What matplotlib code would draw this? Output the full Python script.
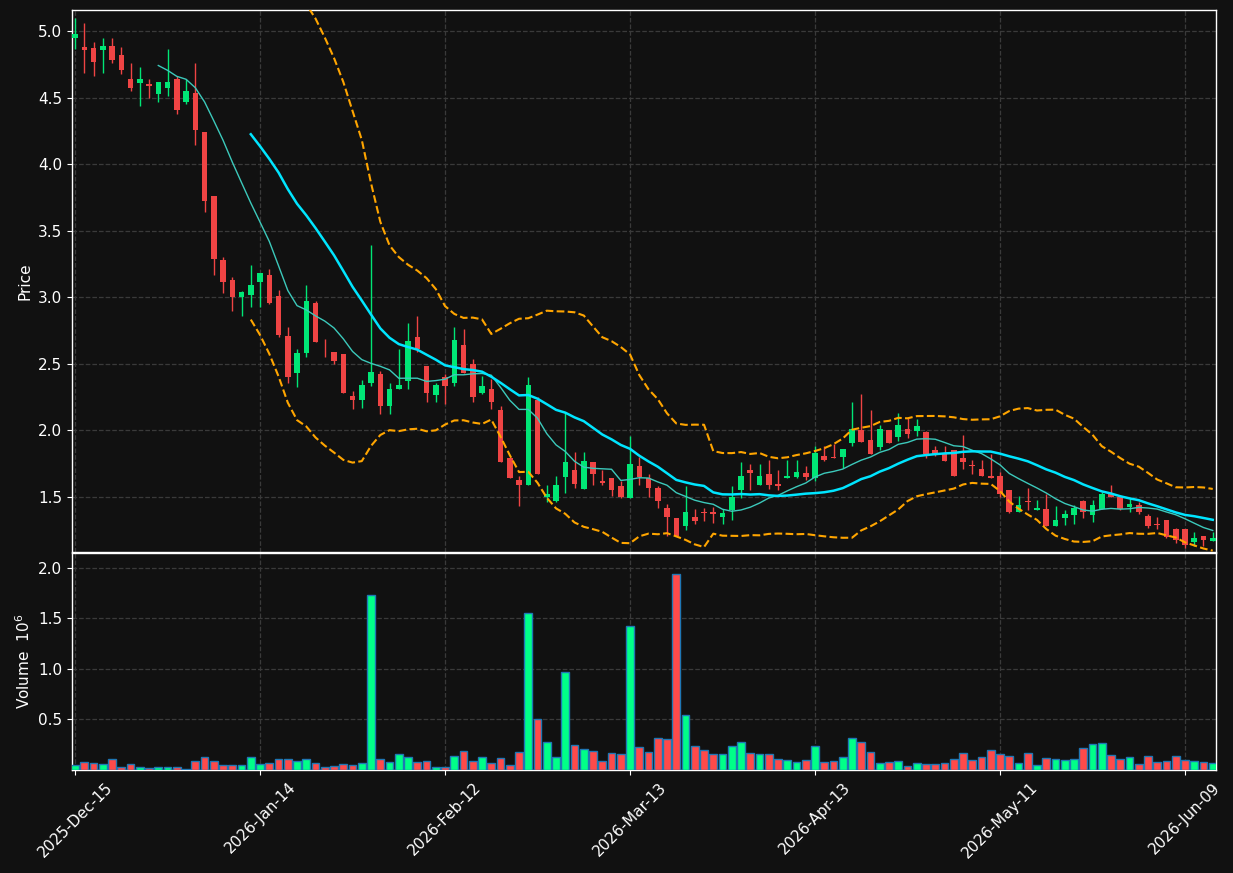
import numpy as np
import pandas as pd
import matplotlib
matplotlib.use("Agg")
import matplotlib.pyplot as plt

# trading days (NYSE holidays skipped)
holidays = ["2025-12-25", "2026-01-01", "2026-01-19", "2026-02-16", "2026-04-03", "2026-05-25"]
dates = pd.bdate_range(start="2025-12-15", periods=124, freq="C", holidays=holidays)

opens = [4.945, 4.88, 4.87, 4.855, 4.89, 4.82, 4.64, 4.61, 4.60, 4.53,
         4.575, 4.64, 4.47, 4.535, 4.24, 3.76, 3.28, 3.13, 3.00, 3.015,
         3.115, 3.17, 3.01, 2.71, 2.435, 2.585, 2.96, 2.615, 2.59, 2.575,
         2.26, 2.23, 2.36, 2.425, 2.18, 2.315, 2.37, 2.70, 2.485, 2.27,
         2.40, 2.36, 2.64, 2.50, 2.285, 2.31, 2.155, 1.795, 1.63, 1.59,
         2.225, 1.50, 1.47, 1.65, 1.705, 1.56, 1.76, 1.62, 1.64, 1.585,
         1.49, 1.735, 1.64, 1.57, 1.42, 1.345, 1.285, 1.35, 1.39, 1.39,
         1.35, 1.40, 1.55, 1.705, 1.59, 1.675, 1.60, 1.645, 1.65, 1.68,
         1.64, 1.805, 1.80, 1.80, 1.905, 2.00, 1.925, 1.875, 2.00, 1.95,
         2.01, 1.995, 1.985, 1.85, 1.825, 1.85, 1.795, 1.74, 1.71, 1.655,
         1.66, 1.555, 1.385, 1.47, 1.40, 1.41, 1.28, 1.34, 1.365, 1.47,
         1.365, 1.41, 1.525, 1.50, 1.425, 1.44, 1.355, 1.30, 1.33, 1.26,
         1.26, 1.16, 1.21, 1.17]
highs = [5.10, 5.06, 4.915, 4.95, 4.95, 4.88, 4.76, 4.73, 4.64, 4.62,
         4.865, 4.66, 4.64, 4.76, 4.24, 3.76, 3.30, 3.15, 3.05, 3.24,
         3.18, 3.21, 3.056, 2.78, 2.61, 3.095, 2.97, 2.69, 2.59, 2.575,
         2.30, 2.38, 3.39, 2.45, 2.36, 2.615, 2.81, 2.86, 2.485, 2.36,
         2.425, 2.78, 2.76, 2.54, 2.41, 2.39, 2.18, 1.795, 1.655, 2.405,
         2.25, 1.59, 1.66, 2.135, 1.84, 1.84, 1.765, 1.705, 1.64, 1.62,
         1.96, 1.80, 1.675, 1.585, 1.45, 1.345, 1.585, 1.41, 1.42, 1.425,
         1.41, 1.585, 1.76, 1.75, 1.75, 1.78, 1.705, 1.78, 1.78, 1.735,
         1.88, 1.88, 1.90, 1.86, 2.21, 2.275, 2.15, 2.04, 2.00, 2.13,
         2.095, 2.085, 1.995, 1.885, 1.88, 1.85, 1.965, 1.775, 1.78, 1.82,
         1.685, 1.555, 1.505, 1.57, 1.48, 1.525, 1.435, 1.405, 1.44, 1.48,
         1.48, 1.54, 1.59, 1.50, 1.49, 1.46, 1.37, 1.35, 1.33, 1.27,
         1.26, 1.24, 1.21, 1.24]
lows = [4.865, 4.685, 4.66, 4.685, 4.76, 4.68, 4.55, 4.44, 4.50, 4.47,
        4.51, 4.38, 4.455, 4.145, 3.64, 3.17, 3.03, 2.90, 2.86, 2.93,
        2.93, 2.95, 2.70, 2.36, 2.33, 2.55, 2.665, 2.55, 2.50, 2.28,
        2.16, 2.17, 2.335, 2.125, 2.125, 2.315, 2.31, 2.59, 2.215, 2.215,
        2.20, 2.335, 2.435, 2.21, 2.275, 2.16, 1.76, 1.64, 1.43, 1.59,
        1.675, 1.46, 1.46, 1.53, 1.57, 1.56, 1.59, 1.59, 1.51, 1.495,
        1.49, 1.59, 1.50, 1.415, 1.205, 1.21, 1.25, 1.30, 1.32, 1.305,
        1.30, 1.33, 1.49, 1.55, 1.59, 1.56, 1.55, 1.64, 1.645, 1.63,
        1.62, 1.77, 1.79, 1.72, 1.88, 1.91, 1.82, 1.85, 1.905, 1.92,
        1.94, 1.955, 1.795, 1.805, 1.77, 1.66, 1.71, 1.67, 1.66, 1.64,
        1.50, 1.38, 1.385, 1.40, 1.40, 1.285, 1.28, 1.29, 1.30, 1.34,
        1.31, 1.41, 1.50, 1.40, 1.39, 1.37, 1.27, 1.26, 1.19, 1.155,
        1.12, 1.135, 1.13, 1.17]
closes = [4.98, 4.86, 4.77, 4.89, 4.785, 4.71, 4.575, 4.64, 4.585, 4.62,
          4.615, 4.41, 4.55, 4.255, 3.72, 3.29, 3.115, 3.00, 3.04, 3.09,
          3.18, 2.96, 2.72, 2.40, 2.58, 2.97, 2.665, 2.61, 2.52, 2.28,
          2.23, 2.345, 2.44, 2.18, 2.31, 2.34, 2.67, 2.61, 2.28, 2.34,
          2.335, 2.68, 2.435, 2.255, 2.335, 2.21, 1.76, 1.64, 1.59, 2.34,
          1.675, 1.52, 1.59, 1.76, 1.60, 1.77, 1.67, 1.605, 1.555, 1.50,
          1.75, 1.65, 1.565, 1.47, 1.35, 1.21, 1.39, 1.32, 1.378, 1.37,
          1.378, 1.50, 1.66, 1.68, 1.66, 1.59, 1.585, 1.66, 1.69, 1.65,
          1.83, 1.78, 1.795, 1.86, 2.01, 1.91, 1.82, 2.01, 1.905, 2.04,
          1.97, 2.03, 1.825, 1.82, 1.77, 1.66, 1.76, 1.73, 1.66, 1.64,
          1.52, 1.385, 1.44, 1.462, 1.42, 1.285, 1.33, 1.375, 1.42, 1.385,
          1.44, 1.525, 1.50, 1.41, 1.45, 1.385, 1.285, 1.293, 1.20, 1.18,
          1.14, 1.19, 1.175, 1.19]
# volume in millions
volumes = [0.054, 0.083, 0.073, 0.064, 0.113, 0.034, 0.064, 0.034, 0.024, 0.034,
           0.034, 0.034, 0.014, 0.093, 0.133, 0.093, 0.054, 0.054, 0.054, 0.133,
           0.064, 0.073, 0.113, 0.113, 0.093, 0.113, 0.073, 0.034, 0.044, 0.064,
           0.054, 0.073, 1.727, 0.113, 0.083, 0.162, 0.133, 0.083, 0.093, 0.034,
           0.034, 0.142, 0.192, 0.093, 0.133, 0.073, 0.123, 0.054, 0.182, 1.550,
           0.507, 0.280, 0.133, 0.969, 0.250, 0.211, 0.192, 0.093, 0.172, 0.162,
           1.422, 0.231, 0.182, 0.320, 0.307, 1.941, 0.543, 0.241, 0.200, 0.162,
           0.162, 0.241, 0.280, 0.172, 0.162, 0.162, 0.113, 0.103, 0.083, 0.103,
           0.241, 0.083, 0.093, 0.133, 0.320, 0.280, 0.182, 0.073, 0.083, 0.093,
           0.044, 0.073, 0.064, 0.064, 0.073, 0.113, 0.172, 0.103, 0.133, 0.200,
           0.162, 0.142, 0.073, 0.172, 0.054, 0.123, 0.113, 0.103, 0.113, 0.221,
           0.260, 0.270, 0.152, 0.113, 0.133, 0.064, 0.142, 0.083, 0.093, 0.142,
           0.103, 0.093, 0.083, 0.073]

bg = "#111111"
up_c = "#00e676"
down_c = "#ef4444"
vol_up = "#00ff88"
vol_down = "#ff4a4a"

plt.rcParams["font.family"] = "DejaVu Sans"
plt.rcParams["xtick.labelsize"] = 11
plt.rcParams["ytick.labelsize"] = 11
plt.rcParams["axes.labelsize"] = 11

o = np.array(opens); h = np.array(highs); l = np.array(lows); c = np.array(closes)
v = np.array(volumes)
x = np.arange(len(c))
up = c >= o

close_s = pd.Series(c)
ma10 = close_s.rolling(10).mean()
ma20 = close_s.rolling(20).mean()
sd20 = close_s.rolling(20).std(ddof=0)
bb_up = ma20 + 2 * sd20
bb_lo = ma20 - 2 * sd20

fig = plt.figure(figsize=(12.33, 8.73), dpi=100, facecolor=bg)
ax1 = fig.add_axes([0.0584, 0.3677, 0.9278, 0.6208], facecolor=bg)
ax2 = fig.add_axes([0.0584, 0.1180, 0.9278, 0.2486], facecolor=bg, sharex=ax1)

### price panel
colors = np.where(up, up_c, down_c)
ax1.vlines(x, l, h, colors=colors, linewidth=1.0, zorder=3)
ax1.bar(x, np.abs(c - o), bottom=np.minimum(o, c), width=0.6, color=colors, linewidth=0, zorder=4)
ax1.plot(x, ma10, color="#3cc9bb", linewidth=1.0, zorder=5)
ax1.plot(x, ma20, color="#00e5ff", linewidth=1.8, zorder=5)
ax1.plot(x, bb_up, "--", color="#ffa500", linewidth=1.5, zorder=5)
ax1.plot(x, bb_lo, "--", color="#ffa500", linewidth=1.5, zorder=5)
ax1.set_ylim(1.087, 5.158)
ax1.set_yticks(np.arange(1.5, 5.01, 0.5))
ax1.set_yticklabels(["%.1f" % t for t in np.arange(1.5, 5.01, 0.5)])
ax1.set_ylabel("Price", color="white")
ax1.tick_params(axis="x", labelbottom=False, length=0)

### volume panel
vcolors = np.where(up, vol_up, vol_down)
ax2.bar(x, v, width=0.85, color=vcolors, edgecolor="#1f77b4", linewidth=1.0, zorder=3)
ax2.set_ylim(0, 2.148)
ax2.set_yticks([0.5, 1.0, 1.5, 2.0])
ax2.set_yticklabels(["0.5", "1.0", "1.5", "2.0"])
ax2.set_ylabel(r"Volume  $10^6$", color="white")

tick_idx = x[::20]
ax2.set_xticks(tick_idx)
ax2.set_xticklabels([d.strftime("%Y-%b-%d") for d in dates[::20]], rotation=45, ha="center")
ax2.set_xlim(-0.33, 123.35)

for ax in (ax1, ax2):
    ax.grid(True, linestyle="--", color="#3a3a3a", linewidth=0.9)
    ax.set_axisbelow(True)
    ax.tick_params(colors="white")
    for sp in ax.spines.values():
        sp.set_color("white")
        sp.set_linewidth(1.0)

plt.savefig("out.png", dpi=100, facecolor=bg)
